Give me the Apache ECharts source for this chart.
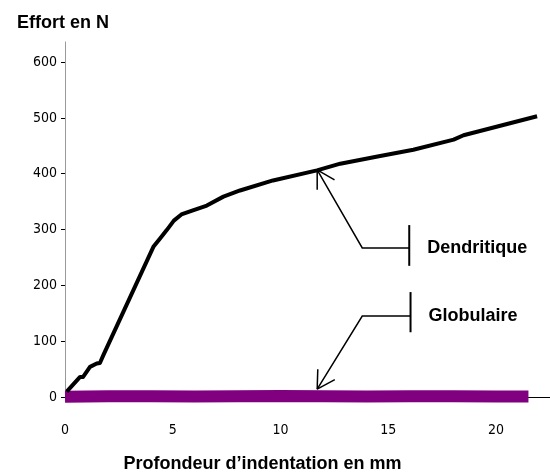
<!DOCTYPE html>
<html>
<head>
<meta charset="utf-8">
<script src="https://cdn.jsdelivr.net/npm/echarts@6/dist/echarts.min.js"></script>
<style>
html, body { margin: 0; padding: 0; background: #fff; }
#chart { width: 550px; height: 472px; }
</style>
</head>
<body>
<div id="chart"></div>
<script>
var myChart = echarts.init(document.getElementById('chart'));

// courbe dendritique (profondeur mm, effort N)
var dendX = [0.08, 0.7, 0.84, 1.16, 1.47, 1.62, 1.78, 4.10, 4.41, 4.72, 5.05, 5.4, 5.9, 6.58, 7.35, 8.12, 9.65, 11.69, 12.77, 14.5, 16.16, 18.03, 18.49, 21.9];
var dendY = [9.5, 36, 36, 54, 60, 61, 75, 269, 284, 299, 316, 327, 334, 343, 359, 370, 388, 406, 418, 431, 443, 461, 469, 503];
// courbe globulaire
var globX = [0, 2, 4, 6, 8, 10, 12, 14, 16, 18, 20, 21.5];
var globY = [0.5, 1.5, 1.5, 1, 1.5, 2, 1.5, 1, 1.5, 1.5, 1, 1];

var yTicks = [0, 100, 200, 300, 400, 500, 600];
var xTicks = [0, 5, 10, 15, 20];

function pairs(xs, ys) {
    var out = [];
    for (var i = 0; i < xs.length; i++) out.push([xs[i], ys[i]]);
    return out;
}

var labelFont = "'DejaVu Sans Condensed', 'Liberation Sans Narrow', Arial, sans-serif";
var boldFont = "'Liberation Sans', Arial, sans-serif";

option = {
    backgroundColor: '#fff',
    animation: false,
    title: {
        text: 'Effort en N',
        left: 12,
        top: 9,
        textStyle: {
            fontFamily: boldFont,
            fontWeight: 'bold',
            fontSize: 18,
            color: '#000'
        }
    },
    grid: {
        left: 65,
        right: 0,
        top: 42,
        bottom: 75,
        outerBoundsMode: 'none',
        containLabel: false
    },
    xAxis: {
        type: 'value',
        min: 0,
        max: 22.5,
        name: 'Profondeur d\u2019indentation en mm',
        nameLocation: 'middle',
        nameGap: 58,
        nameTextStyle: {
            fontFamily: boldFont,
            fontWeight: 'bold',
            fontSize: 18,
            color: '#000',
            padding: [0, 90, 0, 0]
        },
        splitLine: { show: false },
        axisLine: { onZero: false, lineStyle: { color: '#000', width: 1 } },
        axisTick: {
            customValues: xTicks,
            length: 4,
            lineStyle: { color: '#bbb' }
        },
        axisLabel: {
            customValues: xTicks,
            margin: 26,
            fontFamily: labelFont,
            fontSize: 14,
            color: '#000'
        }
    },
    yAxis: {
        type: 'value',
        min: 0,
        max: 636,
        splitLine: { show: false },
        axisLine: { show: true, lineStyle: { color: '#999', width: 1 } },
        axisTick: {
            show: true,
            customValues: yTicks,
            length: 4,
            lineStyle: { color: '#000' }
        },
        axisLabel: {
            customValues: yTicks,
            margin: 8,
            fontFamily: labelFont,
            fontSize: 14,
            color: '#000'
        }
    },
    series: [
        {
            name: 'Globulaire',
            type: 'line',
            data: pairs(globX, globY),
            symbol: 'none',
            lineStyle: { color: '#800080', width: 12, cap: 'butt' },
            z: 2
        },
        {
            name: 'Dendritique',
            type: 'line',
            data: pairs(dendX, dendY),
            symbol: 'none',
            lineStyle: { color: '#000', width: 4, join: 'round' },
            z: 3
        }
    ]
};
myChart.setOption(option);

// flèches d'annotation (coordonnées en données)
var notes = [
    { text: 'Dendritique', tip: [11.7, 407], elbow: [13.79, 267], bar: [15.97, 308, 235] },
    { text: 'Globulaire', tip: [11.7, 14], elbow: [13.79, 145], bar: [16.03, 188, 116] }
];

function px(p) { return myChart.convertToPixel({ gridIndex: 0 }, p); }

var elements = [];
notes.forEach(function (n) {
    var t = px(n.tip), e = px(n.elbow);
    var bTop = px([n.bar[0], n.bar[1]]), bBot = px([n.bar[0], n.bar[2]]);
    var midY = e[1];
    elements.push({
        type: 'polyline',
        shape: { points: [t, e, [bTop[0], midY]] },
        style: { stroke: '#000', lineWidth: 1.5, fill: null }
    });
    elements.push({
        type: 'line',
        shape: { x1: bTop[0], y1: bTop[1], x2: bBot[0], y2: bBot[1] },
        style: { stroke: '#000', lineWidth: 2 }
    });
    var ang = Math.atan2(e[1] - t[1], e[0] - t[0]);
    [-Math.PI / 6, Math.PI / 6].forEach(function (d) {
        elements.push({
            type: 'line',
            shape: {
                x1: t[0], y1: t[1],
                x2: t[0] + 20 * Math.cos(ang + d),
                y2: t[1] + 20 * Math.sin(ang + d)
            },
            style: { stroke: '#000', lineWidth: 1.5 }
        });
    });
    elements.push({
        type: 'text',
        x: bTop[0] + 18,
        y: midY,
        style: {
            text: n.text,
            fontFamily: boldFont,
            fontWeight: 'bold',
            fontSize: 18,
            fill: '#000',
            verticalAlign: 'middle'
        },
        z: 10
    });
});
myChart.setOption({ graphic: elements });
</script>
</body>
</html>
